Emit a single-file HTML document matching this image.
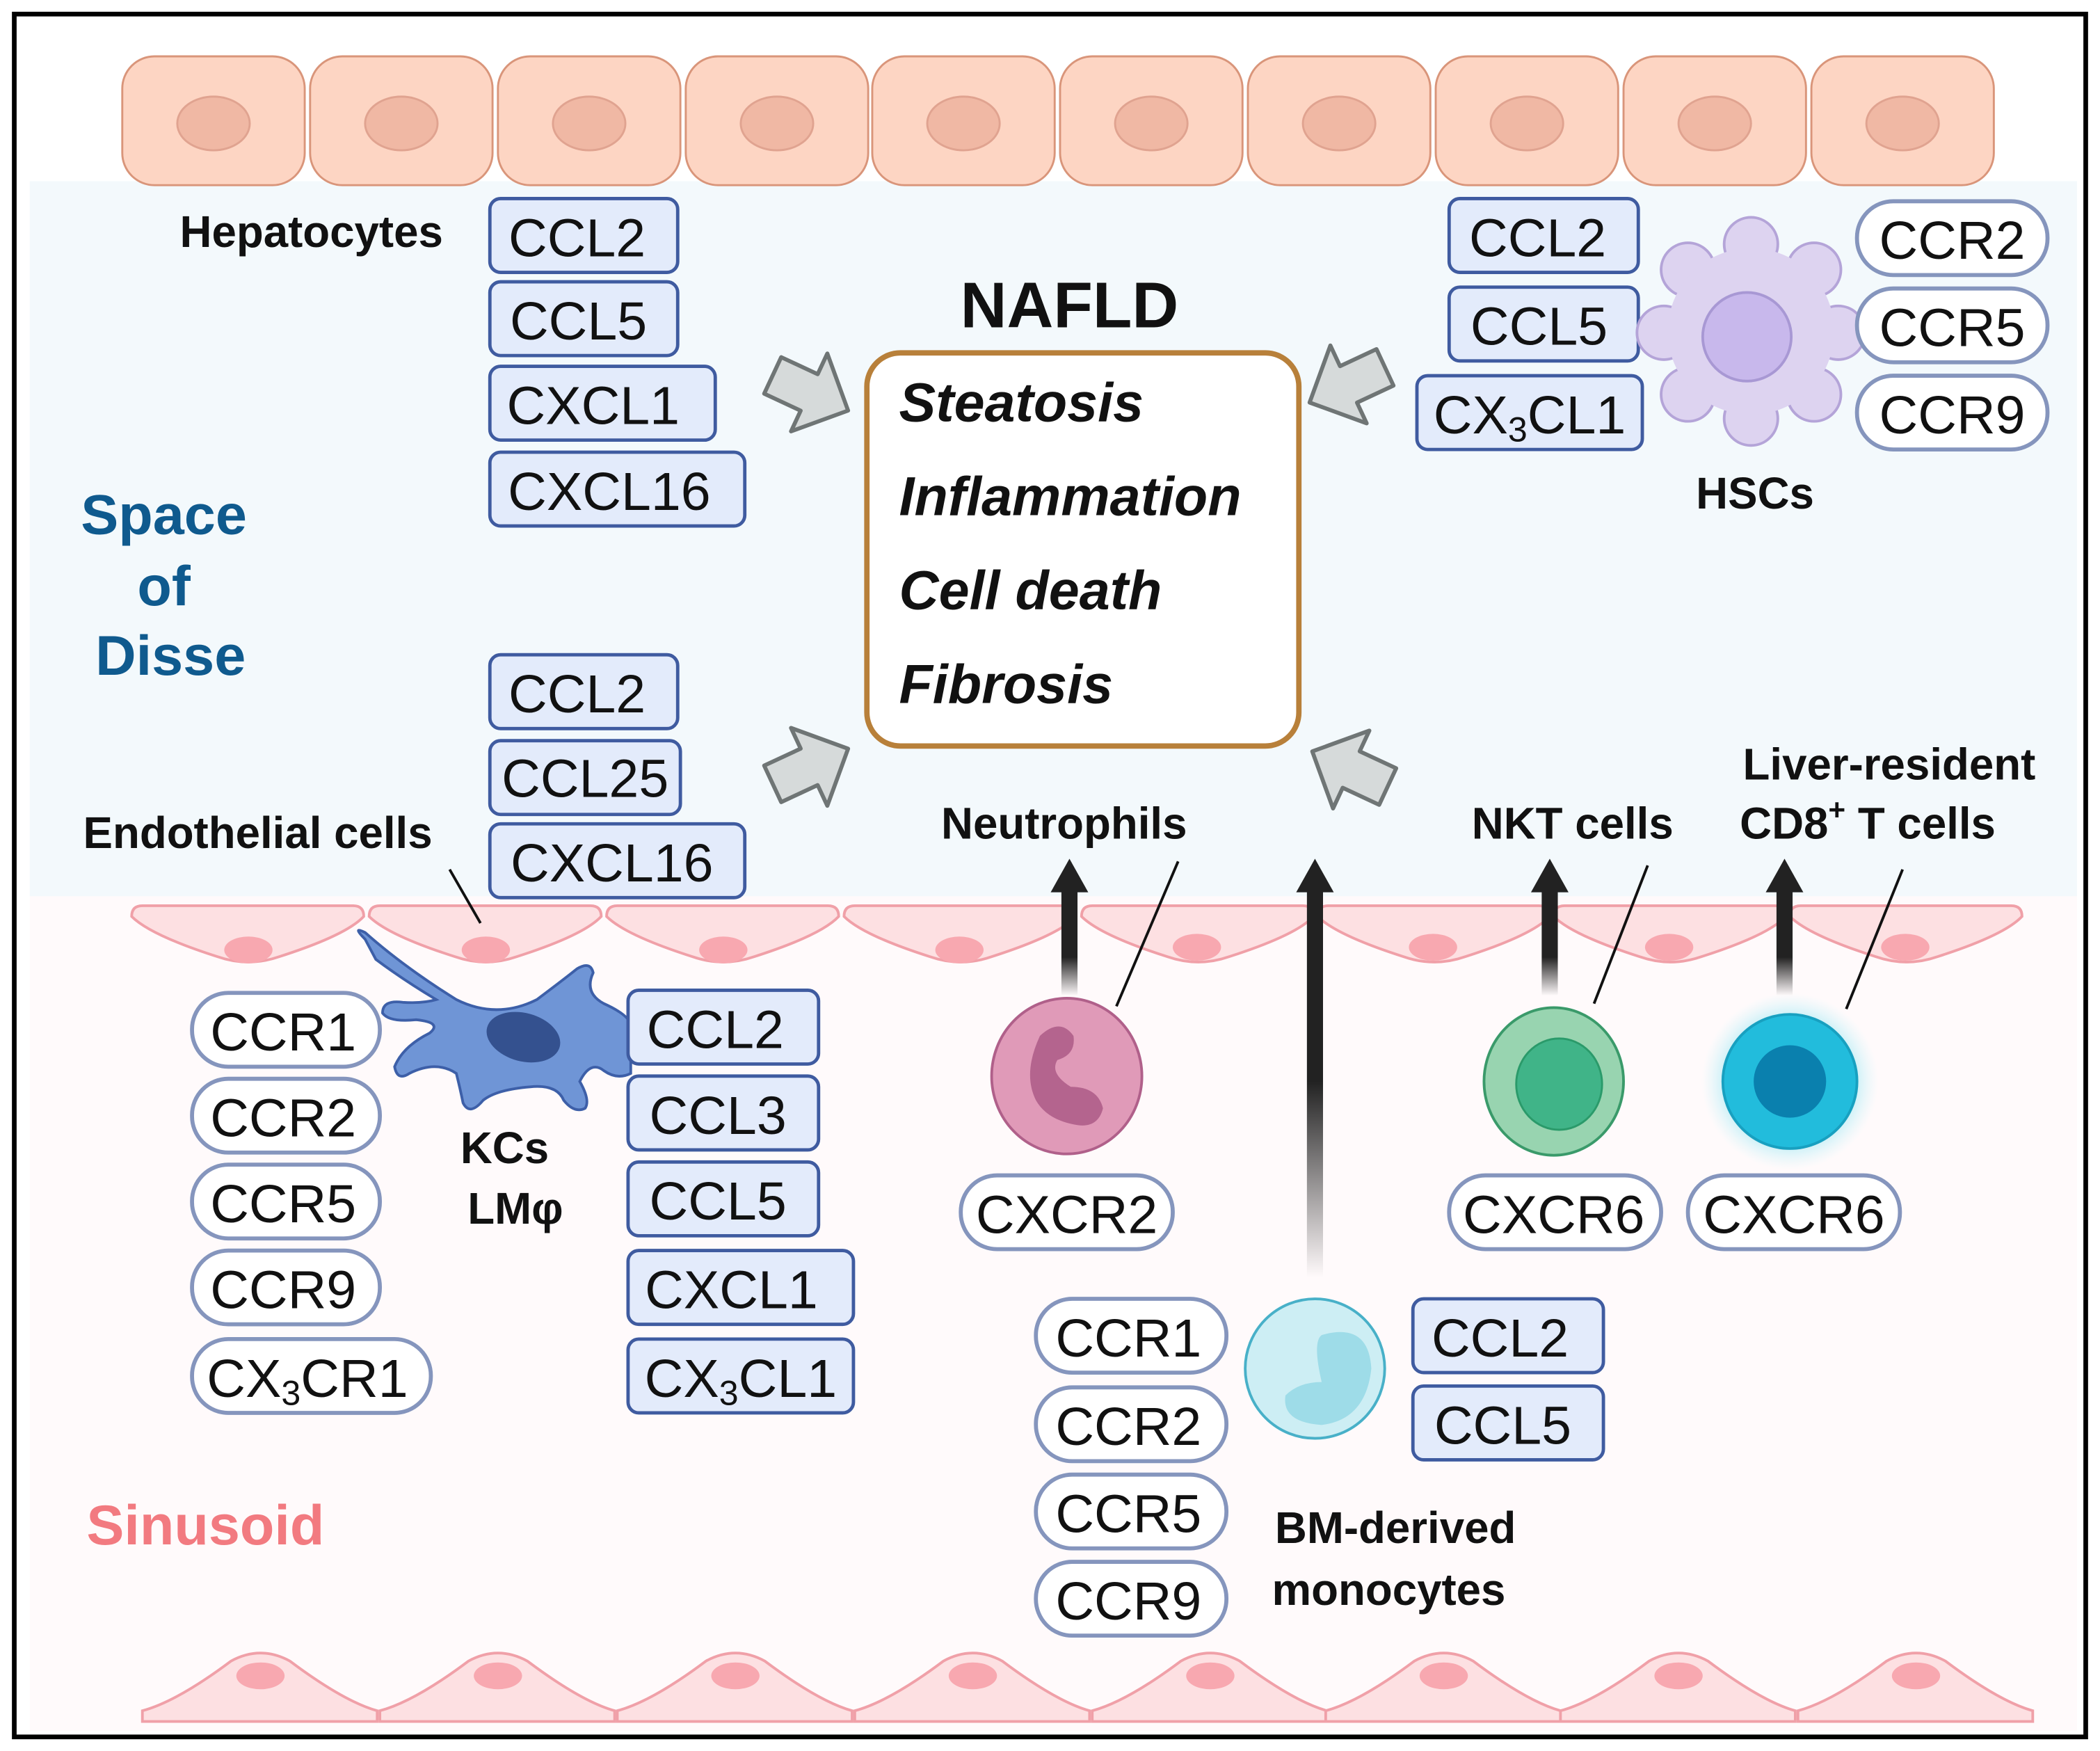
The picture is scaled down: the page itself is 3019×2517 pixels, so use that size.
<!DOCTYPE html>
<html><head><meta charset="utf-8">
<style>
html,body{margin:0;padding:0;background:#fff;}
svg{display:block;}
text{font-family:"Liberation Sans",sans-serif;}
.lg{fill:#e3ebfb;stroke:#3f5ba0;stroke-width:2.5;}
.rc{fill:#fff;stroke:#8595bd;stroke-width:3;}
.t{font-size:40px;fill:#111;text-anchor:middle;}
.b{font-weight:bold;font-size:33px;fill:#111;text-anchor:middle;}
.ga{fill:#d6dada;stroke:#6f7575;stroke-width:3;stroke-linejoin:round;}
</style></head>
<body>
<svg width="3019" height="2517" viewBox="0 0 1565 1305" xmlns="http://www.w3.org/2000/svg">
<defs>
<rect id="hep" width="136" height="96" rx="24" fill="#fdd5c3" stroke="#d9957a" stroke-width="1.5"/>
<path id="ec" d="M8,0 L165,0 Q173,0 173,8 Q160,22 110,38 Q87,46 64,38 Q14,22 0,8 Q0,0 8,0 Z" fill="#fde0e2" stroke="#f0a0a8" stroke-width="2"/>
<path id="bc" d="M0,55 L175,55 L175,47 Q150,40 110,10 Q88,-2 66,10 Q26,40 0,47 Z" fill="#fde0e2" stroke="#f0a0a8" stroke-width="2"/>
<polygon id="ga" points="0,0 -32,-32 -32,-15 -62,-15 -62,15 -32,15 -32,32" class="ga"/>
<linearGradient id="fade" x1="0" y1="1" x2="0" y2="0">
<stop offset="0" stop-color="#222" stop-opacity="0"/><stop offset="0.35" stop-color="#222" stop-opacity="1"/><stop offset="1" stop-color="#222"/></linearGradient>
<linearGradient id="fade2" x1="0" y1="1" x2="0" y2="0">
<stop offset="0" stop-color="#222" stop-opacity="0"/><stop offset="0.5" stop-color="#222" stop-opacity="1"/><stop offset="1" stop-color="#222"/></linearGradient>
<radialGradient id="glow"><stop offset="0.6" stop-color="#7fe0f0" stop-opacity="0.8"/><stop offset="1" stop-color="#c8f4fa" stop-opacity="0"/></radialGradient>
</defs>
<rect width="1565" height="1305" fill="#fff"/>
<rect x="22" y="135" width="1526" height="533" fill="#f3f9fc"/>
<rect x="22" y="668" width="1526" height="622" fill="#fffafb"/>
<rect x="10.5" y="10.5" width="1544" height="1284" fill="none" stroke="#000" stroke-width="3.5"/>

<g>
<use href="#hep" x="91" y="42"/><use href="#hep" x="231" y="42"/><use href="#hep" x="371" y="42"/><use href="#hep" x="511" y="42"/><use href="#hep" x="650" y="42"/><use href="#hep" x="790" y="42"/><use href="#hep" x="930" y="42"/><use href="#hep" x="1070" y="42"/><use href="#hep" x="1210" y="42"/><use href="#hep" x="1350" y="42"/>
<g fill="#f0b8a4" stroke="#e0a390" stroke-width="1.5">
<ellipse cx="159" cy="92" rx="27" ry="20"/><ellipse cx="299" cy="92" rx="27" ry="20"/><ellipse cx="439" cy="92" rx="27" ry="20"/><ellipse cx="579" cy="92" rx="27" ry="20"/><ellipse cx="718" cy="92" rx="27" ry="20"/><ellipse cx="858" cy="92" rx="27" ry="20"/><ellipse cx="998" cy="92" rx="27" ry="20"/><ellipse cx="1138" cy="92" rx="27" ry="20"/><ellipse cx="1278" cy="92" rx="27" ry="20"/><ellipse cx="1418" cy="92" rx="27" ry="20"/>
</g></g>

<g>
<use href="#ec" x="98" y="675"/><use href="#ec" x="275" y="675"/><use href="#ec" x="452" y="675"/><use href="#ec" x="629" y="675"/><use href="#ec" x="806" y="675"/><use href="#ec" x="982" y="675"/><use href="#ec" x="1158" y="675"/><use href="#ec" x="1334" y="675"/>
<g fill="#f8a8b0"><ellipse cx="185" cy="708" rx="18" ry="10"/><ellipse cx="362" cy="708" rx="18" ry="10"/><ellipse cx="539" cy="708" rx="18" ry="10"/><ellipse cx="715" cy="708" rx="18" ry="10"/><ellipse cx="892" cy="706" rx="18" ry="10"/><ellipse cx="1068" cy="706" rx="18" ry="10"/><ellipse cx="1244" cy="706" rx="18" ry="10"/><ellipse cx="1420" cy="706" rx="18" ry="10"/></g>
</g>
<g>
<use href="#bc" x="106" y="1228"/><use href="#bc" x="283" y="1228"/><use href="#bc" x="460" y="1228"/><use href="#bc" x="637" y="1228"/><use href="#bc" x="814" y="1228"/><use href="#bc" x="988" y="1228"/><use href="#bc" x="1163" y="1228"/><use href="#bc" x="1340" y="1228"/>
<g fill="#f8a8b0"><ellipse cx="194" cy="1249" rx="18" ry="10"/><ellipse cx="371" cy="1249" rx="18" ry="10"/><ellipse cx="548" cy="1249" rx="18" ry="10"/><ellipse cx="725" cy="1249" rx="18" ry="10"/><ellipse cx="902" cy="1249" rx="18" ry="10"/><ellipse cx="1076" cy="1249" rx="18" ry="10"/><ellipse cx="1251" cy="1249" rx="18" ry="10"/><ellipse cx="1428" cy="1249" rx="18" ry="10"/></g>
</g>

<text x="232" y="184" class="b">Hepatocytes</text>
<g font-weight="bold" font-size="42" fill="#0f5a8e" text-anchor="middle">
<text x="122" y="398">Space</text><text x="122" y="451">of</text><text x="127" y="503">Disse</text></g>
<text x="192" y="632" class="b">Endothelial cells</text>
<line x1="335" y1="648" x2="358" y2="688" stroke="#111" stroke-width="2"/>
<text x="153" y="1151" font-weight="bold" font-size="42" fill="#f27a80" text-anchor="middle">Sinusoid</text>

<rect class="lg" x="365" y="148" width="140" height="55" rx="8"/><text class="t" x="430" y="191">CCL2</text>
<rect class="lg" x="365" y="210" width="140" height="55" rx="8"/><text class="t" x="431" y="253">CCL5</text>
<rect class="lg" x="365" y="273" width="168" height="55" rx="8"/><text class="t" x="442" y="316">CXCL1</text>
<rect class="lg" x="365" y="337" width="190" height="55" rx="8"/><text class="t" x="454" y="380">CXCL16</text>

<text x="797" y="244" font-weight="bold" font-size="48" fill="#111" text-anchor="middle">NAFLD</text>
<rect x="646" y="263" width="322" height="293" rx="25" fill="#fff" stroke="#b8803a" stroke-width="4"/>
<g font-weight="bold" font-style="italic" font-size="41" fill="#111">
<text x="670" y="314">Steatosis</text><text x="670" y="384">Inflammation</text><text x="670" y="454">Cell death</text><text x="670" y="524">Fibrosis</text></g>

<use href="#ga" transform="translate(632,306) rotate(25)"/>
<use href="#ga" transform="translate(976,300) rotate(155)"/>
<use href="#ga" transform="translate(632,558) rotate(-25)"/>
<use href="#ga" transform="translate(978,560) rotate(205)"/>

<rect class="lg" x="1080" y="148" width="141" height="55" rx="8"/><text class="t" x="1146" y="191">CCL2</text>
<rect class="lg" x="1080" y="214" width="141" height="55" rx="8"/><text class="t" x="1147" y="257">CCL5</text>
<rect class="lg" x="1056" y="280" width="168" height="55" rx="8"/><text class="t" x="1140" y="323">CX<tspan font-size="26" dy="6">3</tspan><tspan dy="-6">CL1</tspan></text>
<g fill="#ddd3f0" stroke="#b4a4d8" stroke-width="2">
<circle cx="1305" cy="182" r="20"/><circle cx="1352" cy="201" r="20"/><circle cx="1370" cy="248" r="20"/><circle cx="1352" cy="294" r="20"/><circle cx="1305" cy="312" r="20"/><circle cx="1258" cy="294" r="20"/><circle cx="1240" cy="248" r="20"/><circle cx="1258" cy="201" r="20"/>
</g>
<circle cx="1305" cy="247" r="62" fill="#ddd3f0"/>
<circle cx="1302" cy="251" r="33" fill="#c8b8ec" stroke="#a898d4" stroke-width="2"/>
<rect class="rc" x="1384" y="150" width="142" height="55" rx="27"/><text class="t" x="1455" y="193">CCR2</text>
<rect class="rc" x="1384" y="215" width="142" height="55" rx="27"/><text class="t" x="1455" y="258">CCR5</text>
<rect class="rc" x="1384" y="280" width="142" height="55" rx="27"/><text class="t" x="1455" y="323">CCR9</text>
<text x="1308" y="379" class="b">HSCs</text>

<rect class="lg" x="365" y="488" width="140" height="55" rx="8"/><text class="t" x="430" y="531">CCL2</text>
<rect class="lg" x="365" y="552" width="142" height="55" rx="8"/><text class="t" x="436" y="594">CCL25</text>
<rect class="lg" x="365" y="614" width="190" height="55" rx="8"/><text class="t" x="456" y="657">CXCL16</text>

<path d="M272,700 Q262,690 272,695 Q300,720 340,745 Q370,760 400,745 Q420,730 430,722 Q440,716 442,725 Q435,740 450,748 Q470,757 470,765 L470,800 Q460,805 450,798 Q440,790 432,806 Q440,820 436,826 Q428,830 420,820 Q415,808 395,810 Q370,812 360,820 Q350,832 345,822 Q343,812 340,800 Q325,790 305,800 Q296,806 294,795 Q300,780 320,770 Q330,762 310,760 Q290,762 285,755 Q285,745 300,747 Q315,748 325,745 Q300,730 280,715 Z" fill="#6f95d6" stroke="#3d5fa8" stroke-width="2"/>
<ellipse cx="390" cy="773" rx="28" ry="18" transform="rotate(15 390 773)" fill="#34518f"/>
<rect class="rc" x="143" y="740" width="140" height="55" rx="27"/><text class="t" x="211" y="783">CCR1</text>
<rect class="rc" x="143" y="804" width="140" height="55" rx="27"/><text class="t" x="211" y="847">CCR2</text>
<rect class="rc" x="143" y="868" width="140" height="55" rx="27"/><text class="t" x="211" y="911">CCR5</text>
<rect class="rc" x="143" y="932" width="140" height="55" rx="27"/><text class="t" x="211" y="975">CCR9</text>
<rect class="rc" x="143" y="998" width="178" height="55" rx="27"/><text class="t" x="229" y="1041">CX<tspan font-size="26" dy="6">3</tspan><tspan dy="-6">CR1</tspan></text>
<text x="376" y="867" class="b">KCs</text><text x="384" y="912" class="b">LMφ</text>
<rect class="lg" x="468" y="738" width="142" height="55" rx="8"/><text class="t" x="533" y="781">CCL2</text>
<rect class="lg" x="468" y="802" width="142" height="55" rx="8"/><text class="t" x="535" y="845">CCL3</text>
<rect class="lg" x="468" y="866" width="142" height="55" rx="8"/><text class="t" x="535" y="909">CCL5</text>
<rect class="lg" x="468" y="932" width="168" height="55" rx="8"/><text class="t" x="545" y="975">CXCL1</text>
<rect class="lg" x="468" y="998" width="168" height="55" rx="8"/><text class="t" x="552" y="1041">CX<tspan font-size="26" dy="6">3</tspan><tspan dy="-6">CL1</tspan></text>

<rect x="791" y="660" width="12" height="82" fill="url(#fade)"/><polygon points="797,640 783,665 811,665" fill="#222"/>
<rect x="974" y="660" width="12" height="292" fill="url(#fade2)"/><polygon points="980,640 966,665 994,665" fill="#222"/>
<rect x="1149" y="660" width="12" height="82" fill="url(#fade)"/><polygon points="1155,640 1141,665 1169,665" fill="#222"/>
<rect x="1324" y="660" width="12" height="82" fill="url(#fade)"/><polygon points="1330,640 1316,665 1344,665" fill="#222"/>

<text x="793" y="625" class="b">Neutrophils</text>
<line x1="878" y1="642" x2="832" y2="750" stroke="#111" stroke-width="2"/>
<ellipse cx="795" cy="802" rx="56" ry="58" fill="#e09ab8" stroke="#b0608a" stroke-width="2"/>
<path d="M775,772 Q790,758 800,772 Q802,786 788,790 Q782,800 798,810 Q818,810 822,826 Q818,842 800,838 Q780,834 772,820 Q762,800 775,772 Z" fill="#b4648e"/>
<rect class="rc" x="716" y="876" width="158" height="55" rx="27"/><text class="t" x="795" y="919">CXCR2</text>

<circle cx="980" cy="1020" r="52" fill="#cdeef4" stroke="#48b0c8" stroke-width="2"/>
<path d="M985,995 Q1020,985 1022,1020 Q1018,1058 985,1062 Q955,1060 958,1040 Q968,1030 985,1030 Q978,1000 985,995 Z" fill="#9edce8"/>
<rect class="rc" x="772" y="968" width="142" height="55" rx="27"/><text class="t" x="841" y="1011">CCR1</text>
<rect class="rc" x="772" y="1034" width="142" height="55" rx="27"/><text class="t" x="841" y="1077">CCR2</text>
<rect class="rc" x="772" y="1099" width="142" height="55" rx="27"/><text class="t" x="841" y="1142">CCR5</text>
<rect class="rc" x="772" y="1164" width="142" height="55" rx="27"/><text class="t" x="841" y="1207">CCR9</text>
<rect class="lg" x="1053" y="968" width="142" height="55" rx="8"/><text class="t" x="1118" y="1011">CCL2</text>
<rect class="lg" x="1053" y="1033" width="142" height="55" rx="8"/><text class="t" x="1120" y="1076">CCL5</text>
<text x="1040" y="1150" class="b">BM-derived</text><text x="1035" y="1196" class="b">monocytes</text>

<text x="1172" y="625" class="b">NKT cells</text>
<line x1="1228" y1="645" x2="1188" y2="748" stroke="#111" stroke-width="2"/>
<ellipse cx="1158" cy="806" rx="52" ry="55" fill="#98d4b0" stroke="#3a9a6a" stroke-width="2"/>
<ellipse cx="1162" cy="808" rx="32" ry="34" fill="#40b488" stroke="#2a9a6a" stroke-width="1.5"/>
<rect class="rc" x="1080" y="876" width="158" height="55" rx="27"/><text class="t" x="1158" y="919">CXCR6</text>

<text x="1408" y="581" class="b">Liver-resident</text>
<text x="1392" y="625" class="b">CD8<tspan font-size="22" dy="-14">+</tspan><tspan dy="14"> T cells</tspan></text>
<line x1="1418" y1="648" x2="1376" y2="752" stroke="#111" stroke-width="2"/>
<circle cx="1334" cy="806" r="66" fill="url(#glow)"/>
<circle cx="1334" cy="806" r="50" fill="#22bcdc" stroke="#18a0c0" stroke-width="2"/>
<circle cx="1334" cy="806" r="27" fill="#0a80ae"/>
<rect class="rc" x="1258" y="876" width="158" height="55" rx="27"/><text class="t" x="1337" y="919">CXCR6</text>
</svg>
</body></html>
